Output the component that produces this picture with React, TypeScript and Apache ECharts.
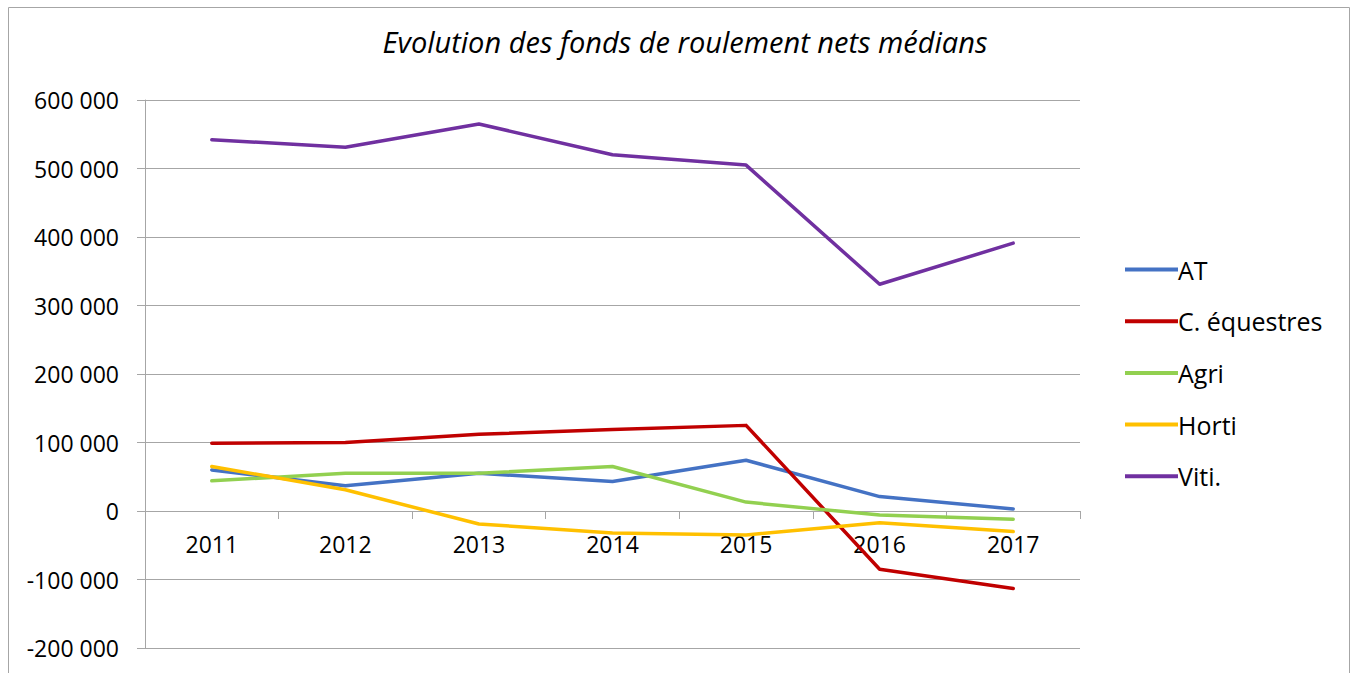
import React, { useEffect, useRef } from "react";
import * as echarts from "echarts";

const categories = ["2011", "2012", "2013", "2014", "2015", "2016", "2017"];
const seriesNames = ["AT", "C. équestres", "Agri", "Horti", "Viti."];
const atValues = [60000, 37000, 55000, 43000, 74000, 21000, 3000];
const equestresValues = [99000, 100000, 112000, 119000, 125000, -85000, -113000];
const agriValues = [44000, 55000, 55000, 65000, 13000, -6000, -12000];
const hortiValues = [65000, 31000, -19000, -32000, -35000, -17000, -30000];
const vitiValues = [542000, 531000, 565000, 520000, 505000, 331000, 391000];
const colors = ["#4472C4", "#C00000", "#92D050", "#FFC000", "#7030A0"];
const yTicks = { min: -200000, max: 600000, interval: 100000 };
const titleText = "Evolution des fonds de roulement nets médians";

const FONT = "'Open Sans', 'Liberation Sans', sans-serif";
const GRID_TOP = 100;
const GRID_BOTTOM_Y = 648;

function fmt(v: number): string {
  const s = Math.abs(v).toString().replace(/\B(?=(\d{3})+(?!\d))/g, " ");
  return (v < 0 ? "-" : "") + s;
}

export default function App() {
  const ref = useRef<HTMLDivElement>(null);
  useEffect(() => {
    if (!ref.current) return;
    const chart = echarts.init(ref.current, undefined, { renderer: "svg" });
    const data = [atValues, equestresValues, agriValues, hortiValues, vitiValues];
    // pixel distance from bottom of grid to zero line, computed from the axis range
    const zeroOffset =
      ((0 - yTicks.min) / (yTicks.max - yTicks.min)) * (GRID_BOTTOM_Y - GRID_TOP);
    chart.setOption({
      animation: false,
      backgroundColor: "#ffffff",
      title: {
        text: titleText,
        left: 680,
        textAlign: "center",
        top: 22,
        textStyle: {
          fontFamily: FONT,
          fontStyle: "italic",
          fontWeight: "normal",
          fontSize: 29,
          color: "#000",
        },
      },
      graphic: [
        {
          type: "rect",
          shape: { x: 8.5, y: 7.5, width: 1341, height: 700 },
          style: { fill: "none", stroke: "#a6a6a6", lineWidth: 1 },
          silent: true,
        },
      ],
      legend: {
        orient: "vertical",
        left: 1120,
        top: 252,
        itemWidth: 53,
        itemHeight: 4,
        itemGap: 26.7,
        icon: "rect",
        data: seriesNames,
        textStyle: {
          fontFamily: FONT,
          fontSize: 25,
          color: "#000",
          lineHeight: 24,
          padding: [0, 0, 0, -5],
        },
      },
      grid: {
        left: 145,
        right: 275,
        top: GRID_TOP,
        bottom: 673 - GRID_BOTTOM_Y,
        containLabel: false,
        outerBoundsMode: "none",
      },
      xAxis: {
        type: "category",
        data: categories,
        boundaryGap: true,
        position: "bottom",
        offset: -zeroOffset,
        axisLine: { onZero: false, lineStyle: { color: "#a6a6a6", width: 1 } },
        axisTick: { show: true, length: 8, lineStyle: { color: "#a6a6a6" } },
        axisLabel: { margin: 21, fontFamily: FONT, fontSize: 23, color: "#000" },
        splitLine: { show: false },
      },
      yAxis: {
        type: "value",
        min: yTicks.min,
        max: yTicks.max,
        interval: yTicks.interval,
        axisLine: { show: true, lineStyle: { color: "#a6a6a6", width: 1 } },
        axisTick: { show: true, length: 8, lineStyle: { color: "#a6a6a6" } },
        axisLabel: {
          margin: 26,
          fontFamily: FONT,
          fontSize: 23,
          color: "#000",
          formatter: (v: number) => fmt(v),
        },
        splitLine: { show: true, lineStyle: { color: "#a6a6a6", width: 1 } },
      },
      series: seriesNames.map((name, i) => ({
        name,
        type: "line",
        data: data[i],
        symbol: "none",
        smooth: false,
        color: colors[i],
        lineStyle: { color: colors[i], width: 3.5, cap: "round", join: "round" },
        itemStyle: { color: colors[i] },
      })),
    });
    return () => chart.dispose();
  }, []);
  return (
    <div
      ref={ref}
      style={{ position: "absolute", left: 0, top: 0, width: 1355, height: 673 }}
    />
  );
}
